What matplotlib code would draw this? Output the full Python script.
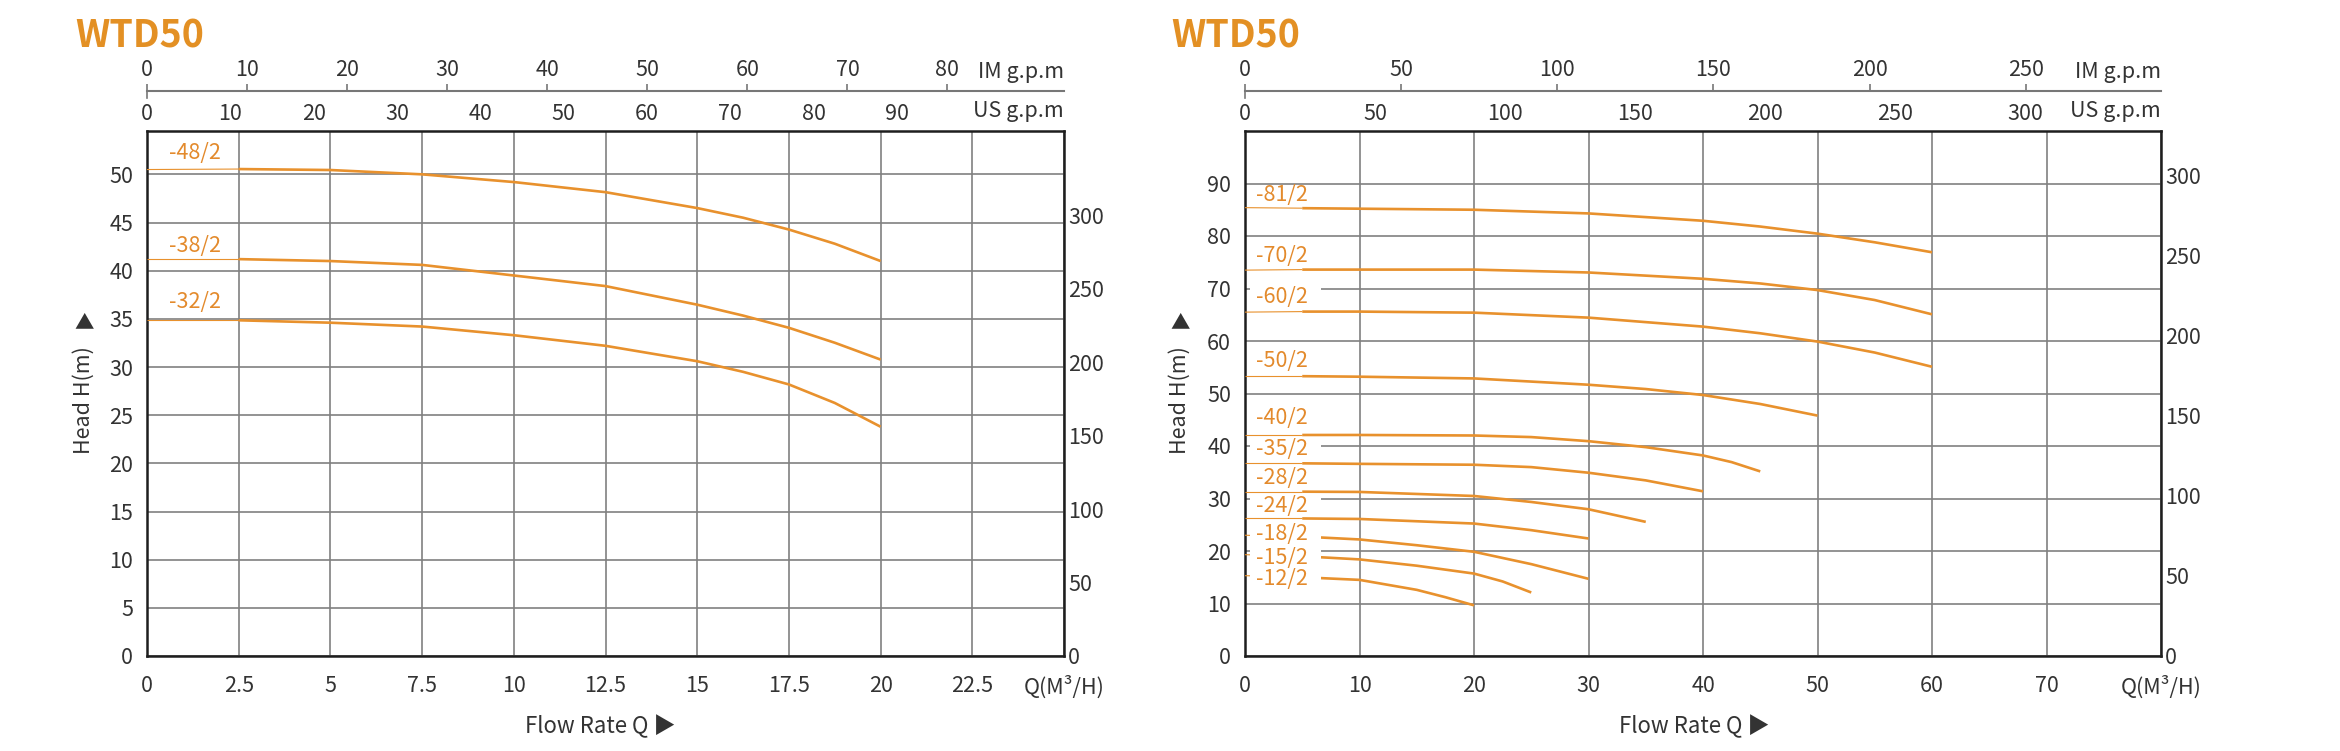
import matplotlib
matplotlib.use("Agg")
import matplotlib.pyplot as plt
from matplotlib.path import Path

plt.rcParams['font.family'] = ['Noto Sans CJK SC', 'DejaVu Sans']

# ---- data: left panel ----
left_q = [0, 2.5, 5, 7.5, 10, 12.5, 15, 16.25, 17.5, 18.75, 20]
left_curves = {
    "-48/2": [50.5, 50.55, 50.45, 50.0, 49.2, 48.15, 46.5, 45.5, 44.27, 42.8, 41.0],
    "-38/2": [41.2, 41.2, 41.0, 40.6, 39.5, 38.4, 36.47, 35.34, 34.07, 32.52, 30.77],
    "-32/2": [34.85, 34.85, 34.6, 34.2, 33.3, 32.2, 30.6, 29.5, 28.19, 26.27, 23.8],
}
left_label_y = {"-48/2": 52.2, "-38/2": 42.6, "-32/2": 36.75}
left_xticks = [0, 2.5, 5, 7.5, 10, 12.5, 15, 17.5, 20, 22.5, 25]
left_xticklabels = ["0", "2.5", "5", "7.5", "10", "12.5", "15", "17.5", "20", "22.5", "Q(M³/H)"]
left_yticks = [0, 5, 10, 15, 20, 25, 30, 35, 40, 45, 50]
left_rticks = [0, 50, 100, 150, 200, 250, 300]
left_im_ticks = [0, 10, 20, 30, 40, 50, 60, 70, 80]
left_us_ticks = [0, 10, 20, 30, 40, 50, 60, 70, 80, 90]

# ---- data: right panel ----
right_curves = {
    "-81/2": ([0, 5, 10, 20, 30, 40, 45, 50, 55, 60],
              [85.4, 85.3, 85.2, 85.0, 84.3, 82.9, 81.8, 80.45, 78.8, 76.9]),
    "-70/2": ([0, 5, 10, 20, 30, 40, 45, 50, 55, 60],
              [73.5, 73.6, 73.6, 73.6, 73.05, 71.85, 70.96, 69.7, 67.8, 65.08]),
    "-60/2": ([0, 5, 10, 20, 30, 40, 45, 50, 55, 60],
              [65.5, 65.6, 65.6, 65.4, 64.45, 62.74, 61.47, 59.89, 57.8, 55.09]),
    "-50/2": ([0, 5, 10, 20, 30, 35, 40, 45, 50],
              [53.3, 53.3, 53.2, 52.87, 51.67, 50.85, 49.71, 48.0, 45.79]),
    "-40/2": ([0, 5, 10, 20, 25, 30, 35, 40, 42.5, 45],
              [42.1, 42.1, 42.1, 42.0, 41.7, 40.92, 39.78, 38.2, 36.93, 35.16]),
    "-35/2": ([0, 5, 10, 20, 25, 30, 35, 40],
              [36.7, 36.7, 36.6, 36.43, 35.98, 34.91, 33.45, 31.37]),
    "-28/2": ([0, 5, 10, 20, 25, 30, 35],
              [31.3, 31.3, 31.25, 30.48, 29.34, 27.95, 25.55]),
    "-24/2": ([0, 5, 10, 20, 25, 30],
              [26.2, 26.2, 26.1, 25.23, 23.97, 22.38]),
    "-18/2": ([0, 5, 10, 15, 20, 25, 30],
              [23.0, 22.75, 22.2, 21.1, 19.85, 17.5, 14.7]),
    "-15/2": ([0, 5, 10, 15, 20, 22.5, 25],
              [19.3, 19.0, 18.4, 17.2, 15.7, 14.2, 12.1]),
    "-12/2": ([0, 5, 10, 15, 17.5, 20],
              [15.3, 15.0, 14.5, 12.6, 11.2, 9.65]),
}
right_label_y = {"-81/2": 87.9, "-70/2": 76.2, "-60/2": 68.3, "-50/2": 56.2, "-40/2": 45.3,
                 "-35/2": 39.4, "-28/2": 34.0, "-24/2": 28.6, "-18/2": 23.2, "-15/2": 18.6,
                 "-12/2": 14.6}
right_xticks = [0, 10, 20, 30, 40, 50, 60, 70, 80]
right_xticklabels = ["0", "10", "20", "30", "40", "50", "60", "70", "Q(M³/H)"]
right_yticks = [0, 10, 20, 30, 40, 50, 60, 70, 80, 90]
right_rticks = [0, 50, 100, 150, 200, 250, 300]
right_im_ticks = [0, 50, 100, 150, 200, 250]
right_us_ticks = [0, 50, 100, 150, 200, 250, 300]

IM_PER_M3H = 3.666
US_PER_M3H = 4.403

ORANGE = "#E8912D"
LABEL_ORANGE = "#E38A2C"
TITLE_ORANGE = "#E39024"
TEXT = "#333333"
GRID = "#808080"
AXIS_GREY = "#777777"
FS = 15.5

fig = plt.figure(figsize=(23.4, 7.51), dpi=100)


def label_box(x0, y0, width, height, mutation_size):
    """白い下地: 横に広く、縦は文字の高さ程度。"""
    left = x0 - 0.3 * mutation_size
    right = x0 + width + 0.6 * mutation_size
    bottom = y0 + 0.05 * mutation_size
    top = y0 + height - 0.05 * mutation_size
    return Path([(left, bottom), (right, bottom), (right, top), (left, top), (left, bottom)],
                closed=True)


def draw_panel(rect, xlim, ylim, xticks, xticklabels, yticks, rticks, rfactor,
               im_ticks, us_ticks, title_x, ylabel_x, flow_x):
    ax = fig.add_axes(rect)
    ax.set_xlim(*xlim)
    ax.set_ylim(*ylim)
    ax.set_xticks(xticks)
    ax.set_xticklabels(xticklabels)
    ax.set_yticks(yticks)
    ax.tick_params(length=0, labelsize=FS, labelcolor=TEXT)
    ax.tick_params(axis="x", pad=14)
    ax.tick_params(axis="y", pad=10)
    ax.grid(True, color=GRID, lw=1.2)
    ax.set_axisbelow(True)
    for sp in ax.spines.values():
        sp.set_linewidth(1.8)
        sp.set_color("#1e1e1e")

    # right-hand feet scale
    ax2 = ax.twinx()
    ax2.set_ylim(ylim[0] * rfactor, ylim[1] * rfactor)
    ax2.set_yticks(rticks)
    ax2.tick_params(length=0, labelsize=FS, labelcolor=TEXT, pad=3)
    for sp in ax2.spines.values():
        sp.set_visible(False)

    # IM g.p.m scale with its own line
    im = ax.secondary_xaxis(1.077, functions=(lambda q: q * IM_PER_M3H, lambda g: g / IM_PER_M3H))
    im.set_xticks(im_ticks)
    im.tick_params(length=5, width=1.2, color=AXIS_GREY, labelsize=FS, labelcolor=TEXT,
                   pad=2, direction="out")
    for sp in im.spines.values():
        sp.set_color(AXIS_GREY)
        sp.set_linewidth(1.5)
    ax.plot([xlim[0], xlim[0]], [1.063, 1.077], transform=ax.get_xaxis_transform(),
            clip_on=False, color=AXIS_GREY, lw=1.2)
    ax.text(1.0, 1.112, "IM g.p.m", transform=ax.transAxes, ha="right", va="center",
            fontsize=FS, color=TEXT)

    # US g.p.m scale, labels only
    us = ax.secondary_xaxis(1.0, functions=(lambda q: q * US_PER_M3H, lambda g: g / US_PER_M3H))
    us.set_xticks(us_ticks)
    us.tick_params(length=0, labelsize=FS, labelcolor=TEXT, pad=4)
    for sp in us.spines.values():
        sp.set_visible(False)
    ax.text(1.0, 1.038, "US g.p.m", transform=ax.transAxes, ha="right", va="center",
            fontsize=FS, color=TEXT)

    fig.text(title_x / 2340, 1 - 36 / 751, "WTD50", fontsize=27, fontweight="bold",
             color=TITLE_ORANGE, va="center", ha="left")
    fig.text(ylabel_x / 2340, 1 - 400 / 751, "Head H(m)", rotation=90, fontsize=FS,
             color=TEXT, va="center", ha="center")
    fig.text(ylabel_x / 2340, 1 - 323 / 751, "▲", fontsize=14, color=TEXT,
             va="center", ha="center")
    fig.text(flow_x / 2340, 1 - 726 / 751, "Flow Rate Q ▶", fontsize=FS + 0.5,
             color=TEXT, va="center", ha="center")
    return ax


def draw_curve(ax, q, h, label, label_y, thin_end, label_x):
    # thin lead-in under the label, thick curve after it
    thin_q = [v for v in q if v <= thin_end]
    thin_h = h[:len(thin_q)]
    ax.plot(thin_q, thin_h, color=ORANGE, lw=0.8, zorder=3, solid_capstyle="butt")
    i0 = len(thin_q) - 1
    ax.plot(q[i0:], h[i0:], color=ORANGE, lw=1.9, zorder=3, solid_capstyle="butt",
            solid_joinstyle="round")
    ax.text(label_x, label_y, label, fontsize=FS, color=LABEL_ORANGE, va="center",
            ha="left", zorder=4, bbox=dict(boxstyle=label_box, fc="white", ec="none"))


axL = draw_panel([147 / 2340, 1 - 656 / 751, 917 / 2340, 525 / 751], (0, 25), (0, 54.5),
                 left_xticks, left_xticklabels, left_yticks, left_rticks, 6.56,
                 left_im_ticks, left_us_ticks, 75, 84, 600)
for name, h in left_curves.items():
    draw_curve(axL, left_q, h, name, left_label_y[name], 2.5, 0.59)

axR = draw_panel([1245 / 2340, 1 - 656 / 751, 916 / 2340, 525 / 751], (0, 80), (0, 100),
                 right_xticks, right_xticklabels, right_yticks, right_rticks, 3.28,
                 right_im_ticks, right_us_ticks, 1171, 1180, 1694)
for name, (q, h) in right_curves.items():
    draw_curve(axR, q, h, name, right_label_y[name], 5, 1.0)

fig.savefig("out.png", dpi=100, facecolor="white")
